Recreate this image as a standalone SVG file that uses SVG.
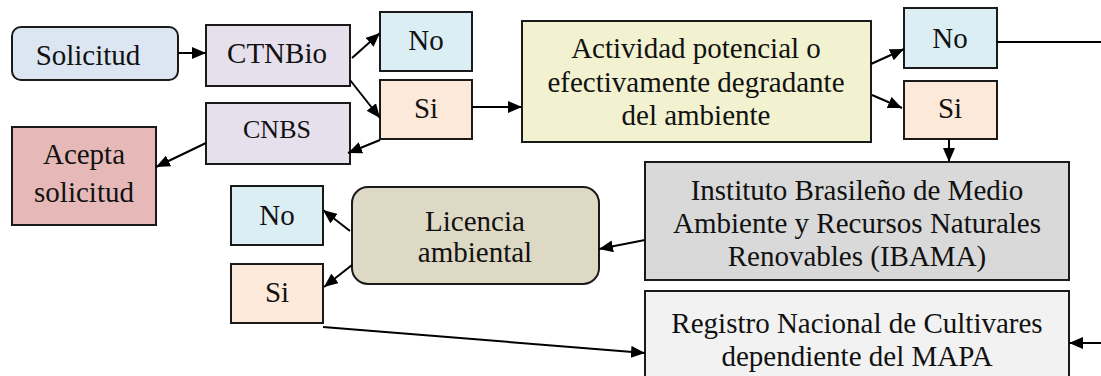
<svg xmlns="http://www.w3.org/2000/svg" width="1101" height="376" viewBox="0 0 1101 376">
<style>
.b{stroke:#1a1a1a;stroke-width:2}
.t{font-family:"Liberation Serif","Times New Roman",serif;font-size:29px;fill:#111;text-anchor:middle}
.c{stroke:#000;stroke-width:2;fill:none}
.a{marker-end:url(#ah)}
</style>
<defs>
<marker id="ah" markerUnits="userSpaceOnUse" markerWidth="14" markerHeight="12" viewBox="0 0 14 12" refX="14" refY="6" orient="auto">
<path d="M0,0 L14,6 L0,12 z" fill="#000"/>
</marker>
</defs>
<rect width="1101" height="376" fill="#fff"/>
<g id="solicitud"><rect class="b" x="12" y="27" width="166" height="53" rx="9" fill="#dce6f2"/><text class="t" x="88" y="65">Solicitud</text></g>
<g id="ctnbio"><rect class="b" x="206" y="25" width="144" height="61" fill="#e5e0ec"/><text class="t" x="277" y="63">CTNBio</text></g>
<g id="no1"><rect class="b" x="380" y="12" width="92" height="59" fill="#dbeef4"/><text class="t" x="426" y="50">No</text></g>
<g id="si1"><rect class="b" x="380" y="80" width="92" height="59" fill="#fde9d9"/><text class="t" x="426" y="118">Si</text></g>
<g id="cnbs"><rect class="b" x="206" y="103" width="144" height="61" fill="#e5e0ec"/><text class="t" x="277" y="138" style="font-size:26px">CNBS</text></g>
<g id="acepta"><rect class="b" x="12" y="127" width="144" height="98" fill="#e6b9b8"/><text class="t" x="84" y="164">Acepta</text><text class="t" x="84" y="202">solicitud</text></g>
<g id="actividad"><rect class="b" x="522" y="21" width="349" height="121" fill="#f2f2d0"/><text class="t" x="696" y="58">Actividad potencial o</text><text class="t" x="696" y="92">efectivamente degradante</text><text class="t" x="696" y="125">del ambiente</text></g>
<g id="no2"><rect class="b" x="904" y="8" width="93" height="60" fill="#dbeef4"/><text class="t" x="950" y="48">No</text></g>
<g id="si2"><rect class="b" x="904" y="81" width="93" height="58" fill="#fde9d9"/><text class="t" x="950" y="118">Si</text></g>
<g id="ibama"><rect class="b" x="645" y="162" width="424" height="118" fill="#d9d9d9"/><text class="t" x="857" y="200">Instituto Brasileño de Medio</text><text class="t" x="857" y="233">Ambiente y Recursos Naturales</text><text class="t" x="857" y="266">Renovables (IBAMA)</text></g>
<g id="licencia"><rect class="b" x="352" y="187" width="247" height="97" rx="16" fill="#ddd9c4"/><text class="t" x="475" y="231">Licencia</text><text class="t" x="475" y="262">ambiental</text></g>
<g id="no3"><rect class="b" x="231" y="186" width="92" height="59" fill="#dbeef4"/><text class="t" x="277" y="225">No</text></g>
<g id="si3"><rect class="b" x="231" y="264" width="92" height="59" fill="#fde9d9"/><text class="t" x="277" y="302">Si</text></g>
<g id="registro"><rect class="b" x="645" y="291" width="424" height="95" fill="#f2f2f2"/><text class="t" x="857" y="333">Registro Nacional de Cultivares</text><text class="t" x="857" y="366">dependiente del MAPA</text></g>
<g id="connectors">
<path class="c a" d="M178,53 L206,53"/>
<path class="c a" d="M352,58 L380,33"/>
<path class="c a" d="M350,80 L380,118"/>
<path class="c a" d="M380,140 L348,153"/>
<path class="c a" d="M206,143 L156,167"/>
<path class="c a" d="M472,107 L522,107"/>
<path class="c a" d="M871,64 L904,49"/>
<path class="c a" d="M872,95 L902,108"/>
<path class="c" d="M997,42 L1101,42"/>
<path class="c a" d="M949,139 L949,162"/>
<path class="c a" d="M645,240 L599,249"/>
<path class="c a" d="M350,231 L323,210"/>
<path class="c a" d="M352,265 L324,287"/>
<path class="c a" d="M323,327 L645,353"/>
<path class="c a" d="M1101,343 L1069,343"/>
</g>
</svg>
